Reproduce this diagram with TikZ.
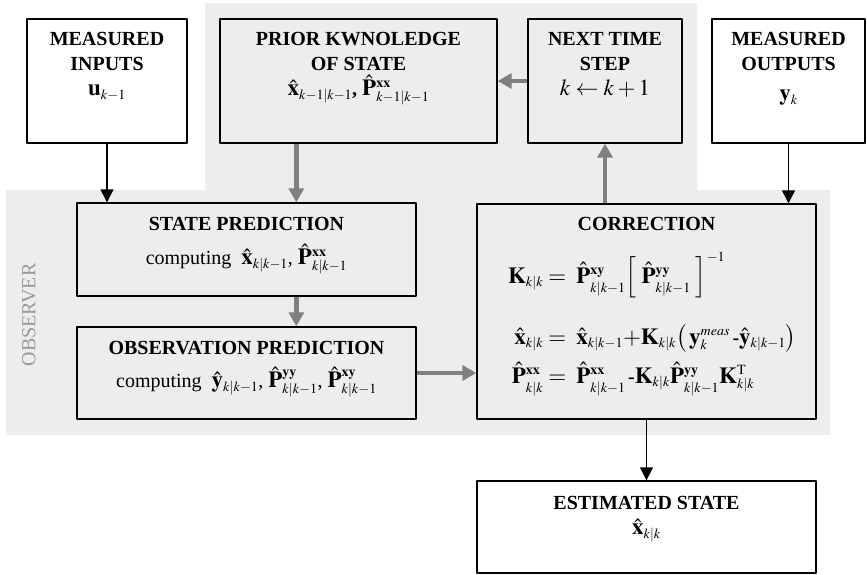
\documentclass[tikz,border=0pt]{standalone}
\usepackage{amsmath}
\usepackage{mathptmx}
\usepackage[no-math]{fontspec}
\setmainfont{Liberation Serif}
\usetikzlibrary{arrows.meta,positioning}
\DeclareMathSizes{20}{23}{14}{10}
\definecolor{obsfill}{HTML}{EDEDED}
\definecolor{flowgray}{HTML}{808080}
\newcommand{\xhat}{\hat{\mathbf{x}}}
\newcommand{\yhat}{\hat{\mathbf{y}}}
\newcommand{\Phat}{\hat{\mathbf{P}}}
\newcommand{\Kmat}{\mathbf{K}}
\newcommand{\lhs}[1]{\makebox[46pt][r]{$#1$}}
\newcommand{\lsub}[1]{\raisebox{-4pt}{$\scriptstyle #1$}}
\begin{document}
\begin{tikzpicture}[
	x=1pt, y=-1pt, line join=round,
	font=\fontsize{20}{25}\selectfont,
	box/.style={draw, line width=1.4pt, fill=obsfill, inner sep=0pt},
	head/.style={align=center, inner sep=0pt, font=\fontsize{20}{25}\selectfont\bfseries},
	eqrow/.style={anchor=base west, inner sep=0pt},
	flow/.style={draw=flowgray, line width=4.5pt, -{Triangle[width=15pt,length=14pt]}},
	link/.style={draw=black, line width=1.4pt, -{Triangle[width=13pt,length=13pt]}}
	]
	\useasboundingbox (0,0) rectangle (867,574);
	\fill[obsfill] (205,3) -- (697,3) -- (697,190) -- (830,190) -- (830,435) -- (6,435) -- (6,190) -- (205,190) -- cycle;
	\node[rotate=90, text=black!40, inner sep=0pt] (obs) at (29,315) {OBSERVER};
	
	\node[box, fill=white, minimum width=160pt, minimum height=124pt] (inp) at (107,81) {};
	\node[box, minimum width=277pt, minimum height=124pt] (prior) at (358.5,81) {};
	\node[box, minimum width=154pt, minimum height=124pt] (nextstep) at (605,81) {};
	\node[box, fill=white, minimum width=153pt, minimum height=124pt] (out) at (788.5,81) {};
	\node[box, minimum width=339pt, minimum height=93pt] (spred) at (246.5,249.5) {};
	\node[box, minimum width=339pt, minimum height=92pt] (opred) at (246.5,373) {};
	\node[box, minimum width=339pt, minimum height=215pt] (corr) at (646.5,311.5) {};
	\node[box, fill=white, minimum width=339pt, minimum height=92pt] (est) at (646.5,527) {};
	
	\node[head, below=14pt of inp.north] (inp-t) {MEASURED\\INPUTS\\$\mathbf{u}_{k-1}$};
	\node[head, below=14pt of prior.north] (prior-t) {PRIOR KWNOLEDGE\\OF STATE\\$\xhat_{k-1|k-1}$, $\Phat^{\mathbf{xx}}_{k-1|k-1}$};
	\node[head, below=14pt of nextstep.north] (nextstep-t) {NEXT TIME\\STEP\\$k \leftarrow k+1$};
	\node[head, below=14pt of out.north] (out-t) {MEASURED\\OUTPUTS\\[5pt]$\mathbf{y}_{k}$};
	\node[head, below=15pt of spred.north] (spred-t) {STATE PREDICTION\\[9pt]\mdseries computing\enspace $\xhat_{k|k-1}$, $\Phat^{\mathbf{xx}}_{k|k-1}$};
	\node[head, below=15pt of opred.north] (opred-t) {OBSERVATION PREDICTION\\[8pt]\mdseries computing\enspace $\yhat_{k|k-1}$, $\Phat^{\mathbf{yy}}_{k|k-1}$, $\Phat^{\mathbf{xy}}_{k|k-1}$};
	\node[head, below=14pt of corr.north] (corr-t) {CORRECTION};
	\node[head, below=16pt of est.north] (est-t) {ESTIMATED STATE\\$\xhat_{k|k}$};
	
	\node[eqrow] (eq-k) at (497,283) {\lhs{\Kmat_{k|k}}$\;=\;\Phat^{\mathbf{xy}}_{\lsub{k|k-1}}\Big[\;\Phat^{\mathbf{yy}}_{\lsub{k|k-1}}\;\Big]^{-1}$};
	\node[eqrow] (eq-x) at (497,344) {\lhs{\xhat_{k|k}}$\;=\;\xhat_{k|k-1}{+}\Kmat_{k|k}\big(\,\mathbf{y}^{\mathit{meas}}_{k}\,\textbf{-}\yhat_{k|k-1}\big)$};
	\node[eqrow] (eq-p) at (497,383) {\lhs{\Phat^{\mathbf{xx}}_{\lsub{k|k}}}$\;=\;\Phat^{\mathbf{xx}}_{\lsub{k|k-1}}\,\textbf{-}\Kmat_{k|k}\Phat^{\mathbf{yy}}_{\lsub{k|k-1}}\Kmat^{\mathrm{T}}_{k|k}$};
	
	\draw[link] (inp.south) -- (inp.south |- spred.north);
	\draw[flow] ([xshift=77pt]prior.south west) -- ([xshift=220pt]spred.north west);
	\draw[flow] ([xshift=220pt]spred.south west) -- ([xshift=220pt]opred.north west);
	\draw[flow] (opred.east) -- (opred.east -| corr.west);
	\draw[flow] (corr.north -| nextstep.south) -- (nextstep.south);
	\draw[flow] (nextstep.west) -- (prior.east);
	\draw[link] (out.south) -- (out.south |- corr.north);
	\draw[link] (corr.south) -- (est.north);
\end{tikzpicture}
\end{document}
